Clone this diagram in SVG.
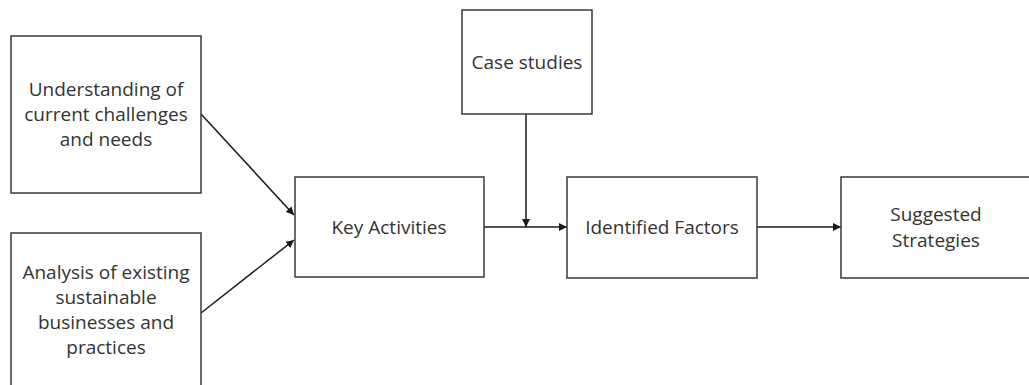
<svg xmlns="http://www.w3.org/2000/svg" width="1029" height="385" viewBox="0 0 1029 385">
  <style>
    .box { fill: #ffffff; stroke: #3a3a3a; stroke-width: 1.5; }
    .lbl { font-family: "Open Sans", "Liberation Sans", sans-serif; font-size: 19px; fill: #333333; text-anchor: middle; }
    .edge { fill: none; stroke: #1a1a1a; stroke-width: 1.5; }
  </style>
  <defs>
    <marker id="arrow" viewBox="0 0 10 10" refX="10" refY="5" markerWidth="8" markerHeight="8" markerUnits="userSpaceOnUse" orient="auto">
      <path d="M0,0 L10,5 L0,10 z" fill="#1a1a1a"/>
    </marker>
  </defs>
  <rect width="1029" height="385" fill="#ffffff"/>

  <g id="connectors">
    <line class="edge" x1="201" y1="114" x2="294" y2="215" marker-end="url(#arrow)"/>
    <line class="edge" x1="201" y1="313" x2="294" y2="240" marker-end="url(#arrow)"/>
    <line class="edge" x1="526" y1="114" x2="526" y2="227" marker-end="url(#arrow)"/>
    <line class="edge" x1="484" y1="227" x2="567" y2="227" marker-end="url(#arrow)"/>
    <line class="edge" x1="757" y1="227" x2="841" y2="227" marker-end="url(#arrow)"/>
  </g>

  <g id="node-understanding">
    <rect class="box" x="11" y="36" width="190" height="157"/>
    <text class="lbl" x="106" y="96">Understanding of</text>
    <text class="lbl" x="106" y="121">current challenges</text>
    <text class="lbl" x="106" y="146">and needs</text>
  </g>

  <g id="node-analysis">
    <rect class="box" x="11" y="233" width="190" height="170"/>
    <text class="lbl" x="106" y="279">Analysis of existing</text>
    <text class="lbl" x="106" y="304">sustainable</text>
    <text class="lbl" x="106" y="329">businesses and</text>
    <text class="lbl" x="106" y="354">practices</text>
  </g>

  <g id="node-key-activities">
    <rect class="box" x="295" y="177" width="189" height="100"/>
    <text class="lbl" x="389" y="234">Key Activities</text>
  </g>

  <g id="node-case-studies">
    <rect class="box" x="462" y="10" width="130" height="104"/>
    <text class="lbl" x="527" y="69">Case studies</text>
  </g>

  <g id="node-identified-factors">
    <rect class="box" x="567" y="177" width="190" height="101"/>
    <text class="lbl" x="662" y="234">Identified Factors</text>
  </g>

  <g id="node-suggested-strategies">
    <rect class="box" x="841" y="177" width="189" height="101"/>
    <text class="lbl" x="936" y="221">Suggested</text>
    <text class="lbl" x="936" y="247">Strategies</text>
  </g>
</svg>
